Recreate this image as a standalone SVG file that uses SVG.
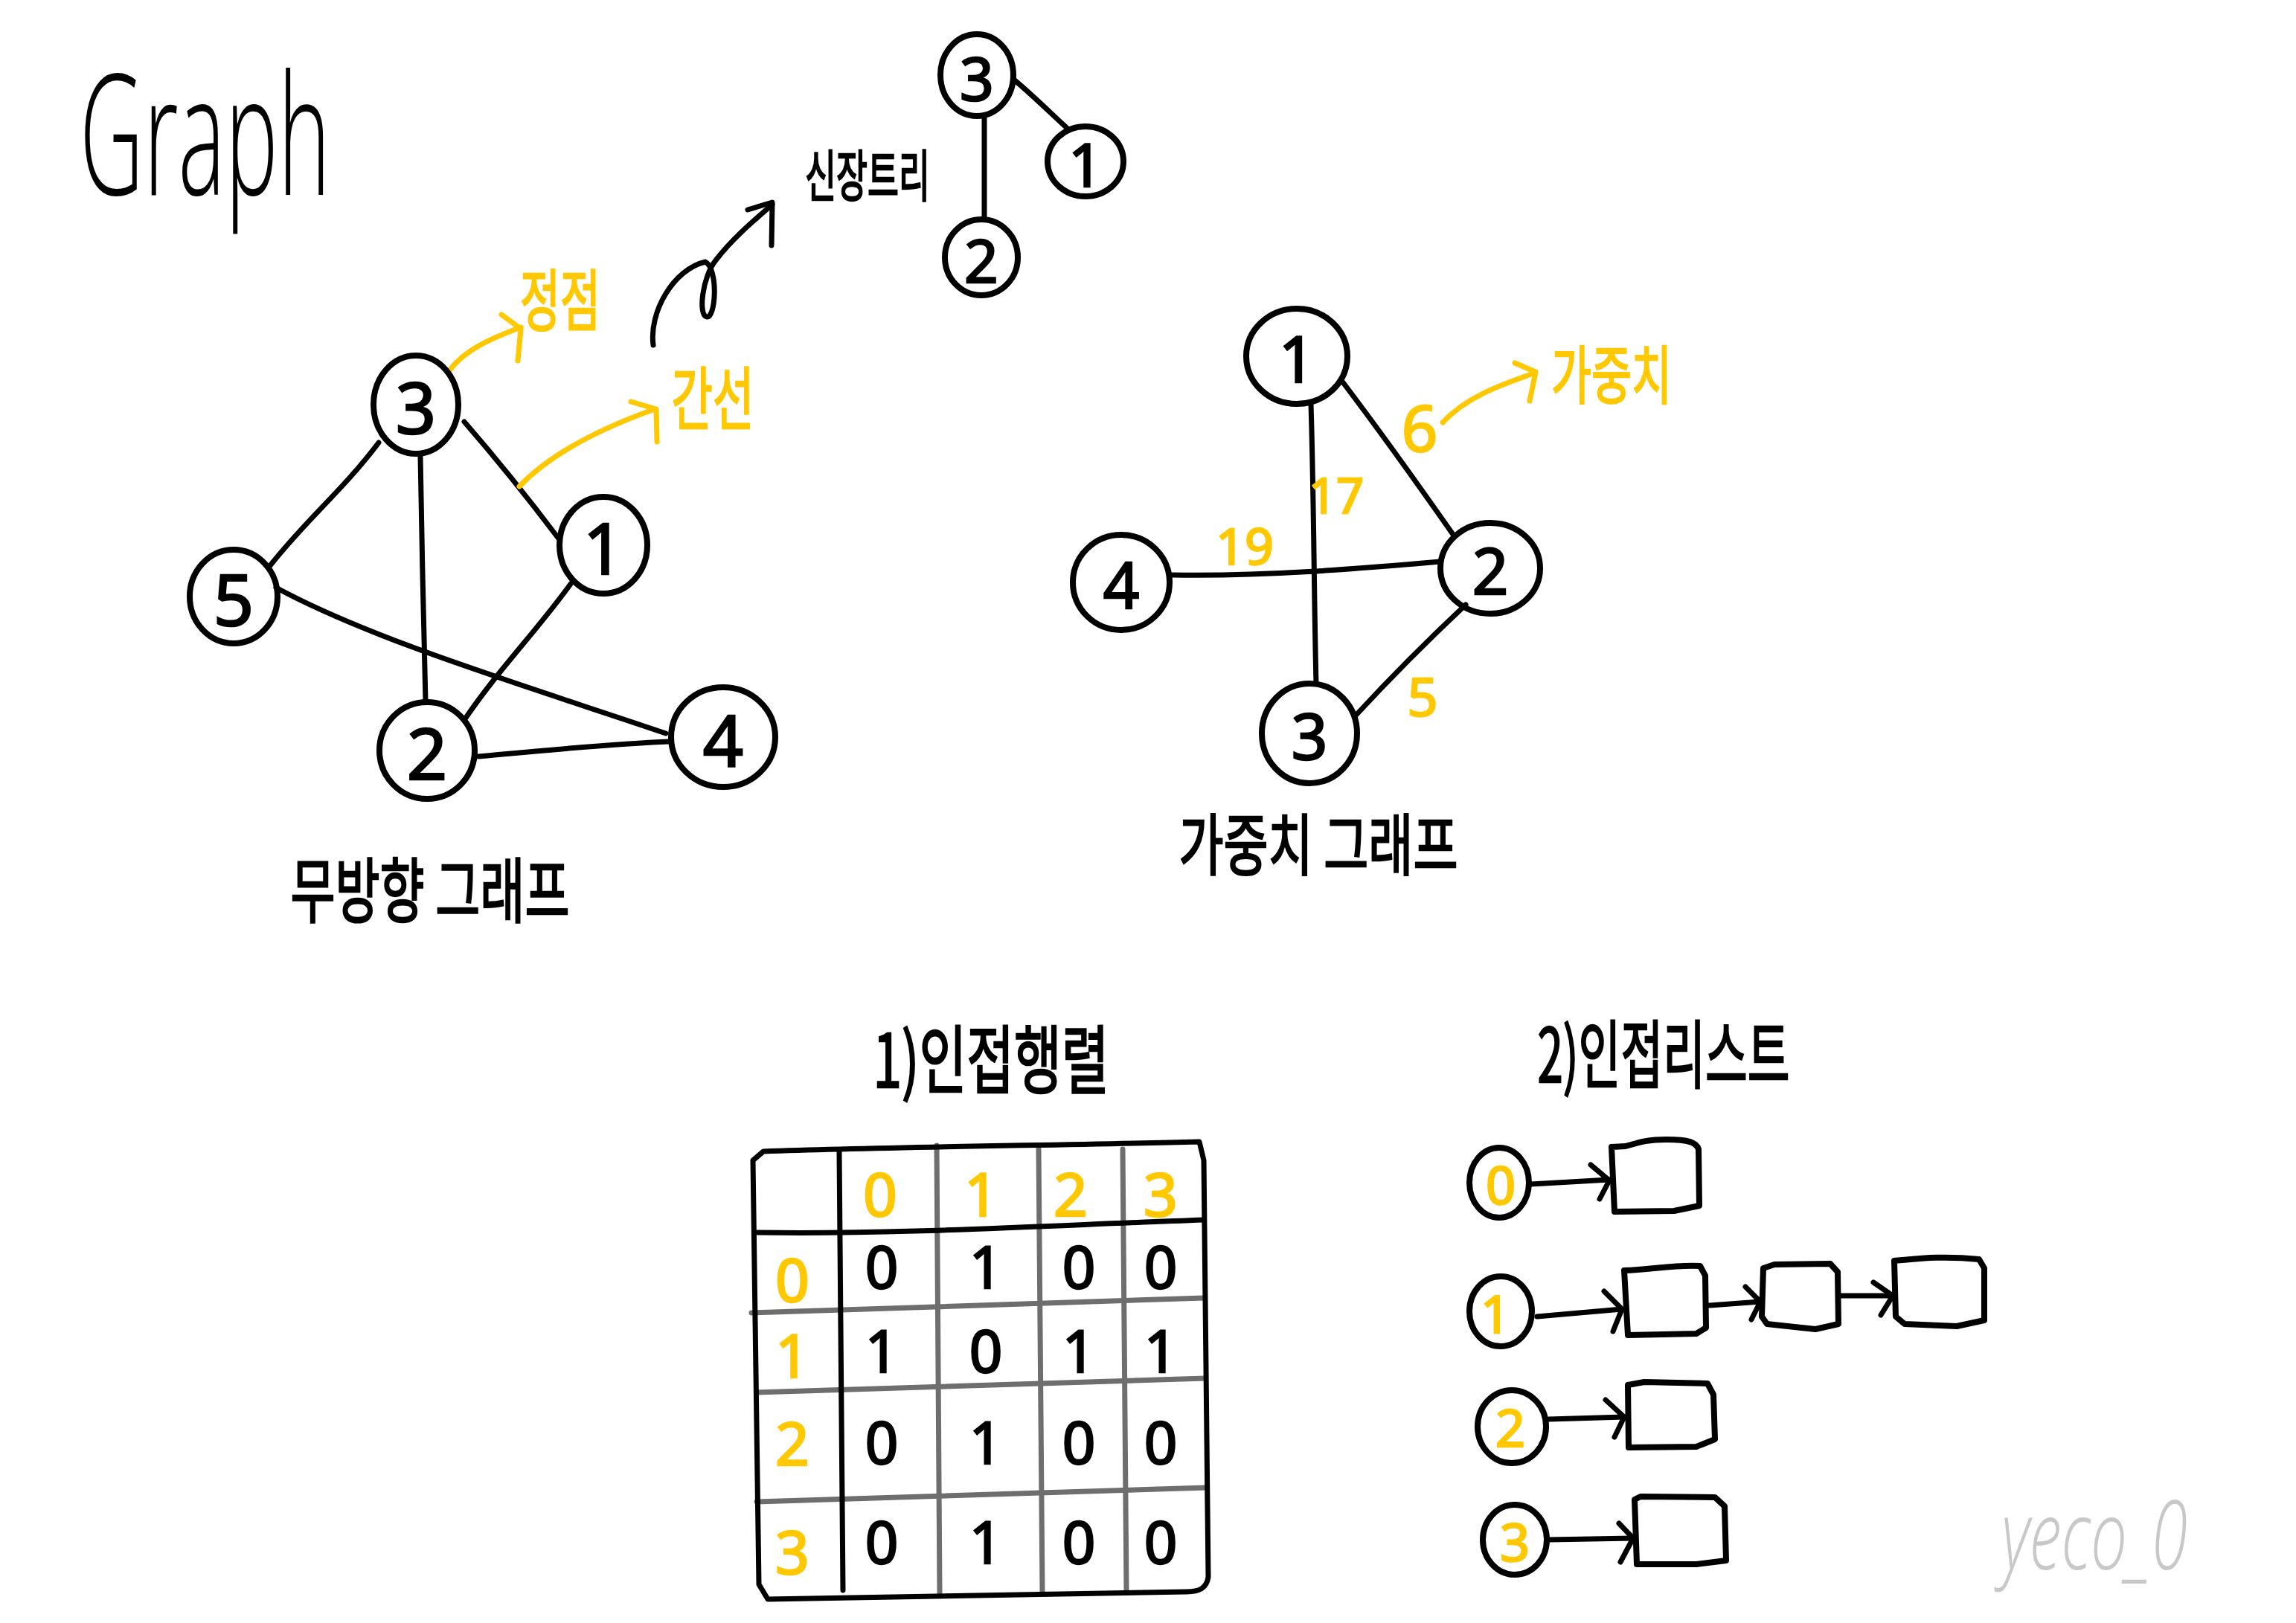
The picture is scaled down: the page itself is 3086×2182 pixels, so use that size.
<svg xmlns="http://www.w3.org/2000/svg" width="3086" height="2182" viewBox="0 0 3086 2182">
<defs>
<style>
.node{fill:none;stroke:#000;stroke-width:8}
.edge{fill:none;stroke:#000;stroke-width:7;stroke-linecap:round;stroke-linejoin:round}
.yl{fill:none;stroke:#FFC800;stroke-width:7;stroke-linecap:round;stroke-linejoin:round}
.grid{fill:none;stroke:#6e6e6e;stroke-width:7;stroke-linecap:round}
.box{fill:none;stroke:#000;stroke-width:8;stroke-linejoin:round}
.d{font-family:"Noto Sans","Liberation Sans",sans-serif;text-anchor:middle;dominant-baseline:central;fill:#000;stroke:#000;stroke-width:2.5}
.dy{font-family:"Noto Sans","Liberation Sans",sans-serif;text-anchor:middle;dominant-baseline:central;fill:#FFC800;stroke:#FFC800;stroke-width:2.5}
.k{font-family:"Noto Sans CJK KR",sans-serif;text-anchor:middle;dominant-baseline:central;fill:#000;stroke:#000;stroke-width:2.5}
.ky{font-family:"Noto Sans CJK KR",sans-serif;text-anchor:middle;dominant-baseline:central;fill:#FFC800;stroke:#FFC800;stroke-width:2.5}
</style>
</defs>
<rect width="3086" height="2182" fill="#fff"/>

<text x="107" y="262" font-family="Open Sans, Liberation Sans, sans-serif" font-weight="300" font-size="225" textLength="337" lengthAdjust="spacingAndGlyphs">Graph</text>

<!-- connectors -->
<g id="connectors">
  <!-- undirected graph -->
  <path class="edge" d="M509,595 C460,660 410,700 361,763"/>
  <path class="edge" d="M565,614 C567,720 569,840 572,943"/>
  <path class="edge" d="M624,567 C670,620 710,670 750,723"/>
  <path class="edge" d="M767,785 C720,850 670,900 624,968"/>
  <path class="edge" d="M371,790 C500,860 700,920 895,986"/>
  <path class="edge" d="M643,1017 C720,1010 820,1000 899,997"/>
  <!-- yellow arrows -->
  <path class="yl" d="M604,498 C625,470 660,455 700,440"/>
  <path class="yl" d="M674,423 L700,442 L696,485"/>
  <path class="yl" d="M698,654 C740,610 810,575 880,550"/>
  <path class="yl" d="M848,540 L882,550 L883,594"/>
  <!-- curly black arrow -->
  <path class="edge" d="M878,464 C872,420 905,362 948,352 C966,362 962,428 950,426 C938,424 944,372 962,350 C985,320 1015,295 1038,275"/>
  <path class="edge" d="M1005,282 L1038,272 L1037,330"/>
  <!-- spanning tree -->
  <path class="edge" d="M1323,158 L1323,295"/>
  <path class="edge" d="M1364,108 C1390,130 1410,150 1434,172"/>
  <!-- weighted graph -->
  <path class="edge" d="M1762,543 C1766,670 1766,800 1769,919"/>
  <path class="edge" d="M1805,514 C1855,580 1905,650 1954,720"/>
  <path class="edge" d="M1576,773 C1700,775 1820,765 1936,755"/>
  <path class="edge" d="M1970,813 C1920,860 1870,910 1822,962"/>
  <path class="yl" d="M1939,568 C1970,535 2010,520 2061,502"/>
  <path class="yl" d="M2036,488 L2064,500 L2056,539"/>
  <!-- adjacency list arrows -->
  <path class="edge" d="M2058,1592 L2163,1586"/>
  <path class="edge" d="M2138,1566 L2163,1587 L2150,1612"/>
  <path class="edge" d="M2066,1770 L2180,1760"/>
  <path class="edge" d="M2156,1736 L2180,1760 L2168,1790"/>
  <path class="edge" d="M2298,1755 L2366,1750"/>
  <path class="edge" d="M2346,1730 L2366,1750 L2354,1774"/>
  <path class="edge" d="M2475,1742 L2544,1742"/>
  <path class="edge" d="M2518,1724 L2544,1742 L2528,1768"/>
  <path class="edge" d="M2082,1908 L2183,1905"/>
  <path class="edge" d="M2158,1882 L2183,1905 L2170,1932"/>
  <path class="edge" d="M2082,2070 L2195,2068"/>
  <path class="edge" d="M2176,2048 L2195,2068 L2178,2100"/>
</g>

<!-- undirected graph nodes -->
<g id="u3"><ellipse class="node" cx="559" cy="544" rx="57" ry="66"/><text class="d" x="559" y="546" font-size="95">3</text></g>
<g id="u1"><ellipse class="node" cx="811" cy="733" rx="59" ry="65"/><text class="d" x="811" y="735" font-size="95">1</text></g>
<g id="u5"><ellipse class="node" cx="314" cy="802" rx="59" ry="63"/><text class="d" x="314" y="804" font-size="95">5</text></g>
<g id="u2"><ellipse class="node" cx="574" cy="1009" rx="64" ry="65"/><text class="d" x="574" y="1011" font-size="95">2</text></g>
<g id="u4"><ellipse class="node" cx="972" cy="991" rx="70" ry="67"/><text class="d" x="972" y="993" font-size="95">4</text></g>

<text class="ky" x="753" y="398" font-size="90" textLength="108" lengthAdjust="spacingAndGlyphs">정점</text>
<text class="ky" x="958" y="529" font-size="92" textLength="111" lengthAdjust="spacingAndGlyphs">간선</text>
<text class="k" x="578" y="1191" font-size="95" textLength="375" lengthAdjust="spacingAndGlyphs">무방향 그래프</text>

<!-- spanning tree -->
<text class="k" x="1166" y="231" font-size="75" textLength="168" lengthAdjust="spacingAndGlyphs">신장트리</text>
<g id="s3"><ellipse class="node" cx="1313" cy="101" rx="49" ry="55"/><text class="d" x="1313" y="103" font-size="80">3</text></g>
<g id="s1"><ellipse class="node" cx="1459" cy="217" rx="51" ry="47"/><text class="d" x="1459" y="219" font-size="80">1</text></g>
<g id="s2"><ellipse class="node" cx="1319" cy="346" rx="49" ry="51"/><text class="d" x="1319" y="348" font-size="80">2</text></g>

<!-- weighted graph -->
<g id="w1"><ellipse class="node" cx="1743" cy="479" rx="68" ry="64"/><text class="d" x="1743" y="481" font-size="85">1</text></g>
<g id="w2"><ellipse class="node" cx="2003" cy="764" rx="67" ry="61"/><text class="d" x="2003" y="766" font-size="85">2</text></g>
<g id="w4"><ellipse class="node" cx="1507" cy="783" rx="65" ry="64"/><text class="d" x="1507" y="785" font-size="85">4</text></g>
<g id="w3"><ellipse class="node" cx="1760" cy="986" rx="64" ry="67"/><text class="d" x="1760" y="988" font-size="85">3</text></g>
<text class="dy" x="1908" y="574" font-size="85">6</text>
<text class="dy" x="1796" y="665" font-size="65">17</text>
<text class="dy" x="1673" y="732" font-size="68">19</text>
<text class="dy" x="1912" y="935" font-size="72">5</text>
<text class="ky" x="2166" y="498" font-size="85" textLength="162" lengthAdjust="spacingAndGlyphs">가중치</text>
<text class="k" x="1772" y="1130" font-size="90" textLength="375" lengthAdjust="spacingAndGlyphs">가중치 그래프</text>

<!-- adjacency matrix -->
<text class="k" x="1332" y="1418" font-size="100" textLength="317" lengthAdjust="spacingAndGlyphs">1)인접행렬</text>
<g id="matrix">
  <path class="grid" d="M1259,1540 L1263,2143"/>
  <path class="grid" d="M1396,1545 L1401,2141"/>
  <path class="grid" d="M1509,1545 L1514,2140"/>
  <path class="grid" d="M1010,1765 L1618,1745"/>
  <path class="grid" d="M1017,1872 L1620,1853"/>
  <path class="grid" d="M1017,2019 L1622,2000"/>
  <path class="edge" d="M1026,1548 C1200,1542 1400,1540 1612,1535 L1618,1560 L1624,2120 C1622,2135 1612,2140 1595,2140 L1032,2150 L1020,2130 L1012,1560 Z"/>
  <path class="edge" d="M1128,1549 L1133,2138"/>
  <path class="edge" d="M1018,1657 C1200,1660 1400,1648 1618,1640"/>
  <text class="dy" x="1183" y="1603" font-size="80">0</text>
  <text class="dy" x="1319" y="1603" font-size="80">1</text>
  <text class="dy" x="1439" y="1603" font-size="80">2</text>
  <text class="dy" x="1560" y="1603" font-size="80">3</text>
  <text class="dy" x="1065" y="1718" font-size="80">0</text>
  <text class="dy" x="1065" y="1820" font-size="80">1</text>
  <text class="dy" x="1065" y="1938" font-size="80">2</text>
  <text class="dy" x="1065" y="2084" font-size="80">3</text>
  <text class="d" x="1185" y="1702" font-size="78">0</text>
  <text class="d" x="1325" y="1702" font-size="78">1</text>
  <text class="d" x="1450" y="1702" font-size="78">0</text>
  <text class="d" x="1560" y="1702" font-size="78">0</text>
  <text class="d" x="1185" y="1815" font-size="78">1</text>
  <text class="d" x="1325" y="1815" font-size="78">0</text>
  <text class="d" x="1450" y="1815" font-size="78">1</text>
  <text class="d" x="1560" y="1815" font-size="78">1</text>
  <text class="d" x="1185" y="1938" font-size="78">0</text>
  <text class="d" x="1325" y="1938" font-size="78">1</text>
  <text class="d" x="1450" y="1938" font-size="78">0</text>
  <text class="d" x="1560" y="1938" font-size="78">0</text>
  <text class="d" x="1185" y="2072" font-size="78">0</text>
  <text class="d" x="1325" y="2072" font-size="78">1</text>
  <text class="d" x="1450" y="2072" font-size="78">0</text>
  <text class="d" x="1560" y="2072" font-size="78">0</text>
</g>

<!-- adjacency list -->
<text class="k" x="2236" y="1411" font-size="100" textLength="339" lengthAdjust="spacingAndGlyphs">2)인접리스트</text>
<g id="l0"><ellipse class="node" cx="2015" cy="1590" rx="40" ry="47"/><text class="dy" x="2017" y="1592" font-size="70">0</text></g>
<g id="l1"><ellipse class="node" cx="2017" cy="1763" rx="42" ry="47"/><text class="dy" x="2010" y="1765" font-size="70">1</text></g>
<g id="l2"><ellipse class="node" cx="2032" cy="1918" rx="46" ry="49"/><text class="dy" x="2030" y="1918" font-size="70">2</text></g>
<g id="l3"><ellipse class="node" cx="2036" cy="2070" rx="43" ry="47"/><text class="dy" x="2036" y="2072" font-size="70">3</text></g>
<g id="b0"><path class="box" d="M2166,1542 L2185,1541 C2200,1537 2210,1532 2240,1532 C2270,1532 2280,1536 2283,1545 L2284,1621 L2250,1628 L2170,1629 Z"/></g>
<g id="b1a"><path class="box" d="M2183,1708 C2220,1707 2250,1700 2285,1702 L2292,1715 L2293,1785 L2280,1793 L2188,1795 Z"/></g>
<g id="b1b"><path class="box" d="M2370,1705 L2385,1700 L2460,1699 L2470,1710 L2471,1780 L2440,1787 L2375,1780 L2368,1770 Z"/></g>
<g id="b1c"><path class="box" d="M2546,1695 C2580,1692 2610,1688 2660,1693 L2667,1705 L2667,1775 L2630,1783 L2560,1780 L2548,1770 Z"/></g>
<g id="b2"><path class="box" d="M2188,1862 L2210,1858 L2295,1860 L2303,1875 L2305,1935 L2280,1945 L2189,1946 Z"/></g>
<g id="b3"><path class="box" d="M2197,2016 L2205,2012 L2305,2013 L2318,2025 L2320,2098 L2280,2103 L2200,2103 Z"/></g>

<text x="2815" y="2110" font-family="Open Sans, Liberation Sans, sans-serif" font-weight="300" font-style="italic" font-size="130" fill="#c8c8c8" text-anchor="middle" textLength="250" lengthAdjust="spacingAndGlyphs">yeco_0</text>
</svg>
